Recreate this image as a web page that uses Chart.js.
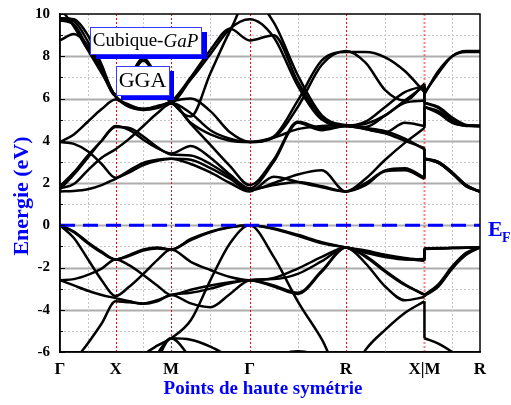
<!DOCTYPE html>
<html lang="fr">
<head>
<meta charset="UTF-8">
<title>Structure de bandes - GaP cubique</title>
<style>
  html, body { margin: 0; padding: 0; background: #fff; }
</style>
</head>
<body>
<canvas id="bands" width="511" height="405"></canvas>

<script src="https://cdn.jsdelivr.net/npm/chart.js"></script>
<script>
// chemin k : Γ - X - M - Γ - R - X|M - R (unités 2π/a)
const kNodes = [0, 0.5, 1.0, 1.7071, 2.5731, 3.2802, 3.7802];
const nodeLabels = ['Γ', 'X', 'M', 'Γ', 'R', 'X|M', 'R'];
// points d'échantillonnage le long du chemin (X et M partagent la même abscisse)
const kGrid = [0, 0.125, 0.25, 0.375, 0.5,
               0.625, 0.75, 0.875, 1.0,
               1.1768, 1.3536, 1.5303, 1.7071,
               1.9236, 2.1401, 2.3566, 2.5731,
               2.7499, 2.9266, 3.1034, 3.2802,
               3.2802, 3.4052, 3.5302, 3.6552, 3.7802];
const yTicks = [-6, -4, -2, 0, 2, 4, 6, 8, 10];
const fermiLevel = 0;

// bandes de conduction (eV)
const cb1  = [1.6,1.62,1.7,1.9,2.2, 2.5,2.85,3.05,3.15, 3.1,2.7,2.2,1.65, 2.0,2.4,2.6,1.6, 2.2,3.1,3.9,4.6, 5.6,5.35,4.9,4.72,4.7];
const cb2  = [1.7,2.4,3.2,4.0,4.7, 4.5,4.05,3.65,3.4, 3.75,3.2,2.4,1.75, 3.0,4.85,4.5,4.7, 4.55,4.4,4.85,4.7, 5.6,5.3,4.85,4.72,4.7];
const cb3  = [1.75,1.95,2.6,3.2,3.6, 4.1,4.7,5.3,5.75, 4.85,4.3,4.0,3.94, 4.2,5.9,7.8,8.2, 8.2,7.95,7.3,6.3, 6.2,7.3,8.0,8.2,8.2];
const cb4  = [1.85,2.5,3.3,4.0,4.65, 4.6,4.2,3.7,3.35, 3.3,2.9,2.3,1.7, 1.9,2.05,1.85,1.6, 1.9,2.55,2.6,2.2, 3.15,3.0,2.5,1.9,1.57];
const cb5  = [3.94,3.85,3.5,2.9,2.25, 2.6,2.95,3.1,3.15, 2.9,2.5,2.0,1.6, 2.3,2.05,1.8,1.6, 2.0,2.6,2.7,2.25, 3.15,2.95,2.45,1.85,1.6];
const cb6  = [3.94,4.3,4.9,5.5,5.95, 5.6,5.45,5.55,5.8, 4.8,3.8,2.8,1.9, 3.1,4.9,4.6,4.7, 4.8,5.2,5.9,6.6, 5.8,5.55,5.0,4.72,4.7];
const cb7  = [8.75,9.05,8.5,7.3,6.15, 7.0,7.9,7.0,5.9, 5.15,7.2,9.2,10.8, 9.6,7.1,5.2,4.72, 4.6,4.45,4.1,3.6, 3.15,3.0,2.5,1.9,1.6];
const cb8  = [9.75,9.65,8.7,7.4,6.1, 5.7,5.5,5.6,5.85, 6.0,5.4,4.4,3.94, 4.15,5.6,7.6,8.25, 7.7,6.4,5.9,6.7, 6.25,7.2,8.0,8.25,8.25];
const cb9  = [9.8,9.75,9.0,7.6,6.2, 6.9,7.8,6.9,5.85, 6.9,8.1,9.3,9.75, 8.9,6.6,5.0,4.7, 4.9,5.6,6.3,6.6, 5.8,5.6,5.1,4.75,4.7];
const cb10 = [10.3,9.4,8.3,7.2,6.1, 5.6,5.5,5.65,5.85, 7.0,8.3,9.3,8.75, 9.0,6.8,5.1,4.7, 4.65,5.2,5.8,5.9, 5.6,5.4,4.9,4.7,4.7];
const cb11 = [9.7,9.5,8.4,7.3,6.1, 5.65,5.5,5.6,5.8, 5.3,4.5,4.1,3.94, 4.15,4.55,4.7,4.75, 4.55,4.35,4.0,3.65, 3.15,2.95,2.45,1.85,1.6];

// bandes de valence (eV)
const vb1 = [0,-0.3,-0.8,-1.25,-1.62, -1.4,-1.15,-1.05,-1.15, -0.65,-0.3,-0.08,0, -0.15,-0.45,-0.8,-1.05, -1.2,-1.4,-1.55,-1.65, -1.1,-1.08,-1.07,-1.06,-1.05];
const vb2 = [0,-0.6,-1.6,-2.6,-3.35, -2.9,-2.3,-1.65,-1.15, -1.73,-2.12,-2.45,-2.6, -2.5,-2.05,-1.5,-1.05, -1.3,-1.5,-1.62,-1.6, -1.1,-1.1,-1.08,-1.06,-1.05];
const vb3 = [-2.6,-2.55,-2.35,-2.05,-1.62, -1.9,-2.35,-2.85,-3.3, -3.05,-2.85,-2.7,-2.6, -2.85,-3.2,-2.15,-1.05, -1.5,-2.2,-2.83,-3.27, -3.3,-2.85,-2.0,-1.35,-1.05];
const vb4 = [-2.6,-2.85,-3.1,-3.3,-3.45, -3.6,-3.72,-3.6,-3.3, -3.7,-3.88,-3.25,-2.6, -2.55,-2.3,-1.7,-1.05, -1.8,-2.9,-3.55,-3.4, -3.35,-2.9,-2.05,-1.4,-1.05];
const vb5 = [0,-0.33,-0.85,-1.3,-1.62, -1.45,-1.2,-1.1,-1.15, -0.7,-0.33,-0.1,0, -0.18,-0.5,-0.85,-1.05, -1.25,-1.45,-1.6,-1.68, -1.12,-1.1,-1.08,-1.06,-1.05];
const vb6 = [-8,-6.5,-5.6,-4.65,-3.6, -3.65,-3.7,-3.55,-3.3, -3.2,-3.0,-2.75,-2.6, -2.9,-3.25,-2.2,-1.05, -1.45,-2.15,-2.8,-3.3, -3.3,-2.8,-1.95,-1.3,-1.05];
const vb7 = [-9.5,-9.3,-8.8,-8.2,-7.6, -6.9,-6.15,-5.7,-5.35, -4.5,-2.6,-0.85,0, -1.5,-3.6,-5.4,-7.5, -5.9,-4.95,-4.15,-3.6, -5.35,-5.6,-6.0,-6.5,-7.0];
const vb8 = [-10,-10,-10,-10,-10, -8.5,-7.2,-6.1,-5.35, -5.42,-5.75,-6.25,-6.8, -6.2,-5.97,-6.2,-6.8, -7.5,-8,-8.5,-9, -9,-9,-9,-9,-9];
const vb9 = [-10,-10,-10,-10,-10, -9.5,-8,-6.4,-5.35, -6.3,-7.5,-8.5,-9, -9,-9,-9,-9, -9,-9,-9,-9, -9,-9,-9,-9,-9];

const bands = [cb1, cb2, cb3, cb4, cb5, cb6, cb7, cb8, cb9, cb10, cb11,
               vb1, vb2, vb3, vb4, vb5, vb6, vb7, vb8, vb9];

const serif = "'Liberation Serif', 'Times New Roman', serif";
const blue = '#0000ff';

function bandDatasets(band) {
    const pts = band.map((e, i) => ({ x: kGrid[i], y: e }));
    const style = { borderColor: '#000', borderWidth: 2.5, pointRadius: 0, fill: false,
                    cubicInterpolationMode: 'monotone', clip: 0 };
    return [
        { ...style, data: pts.slice(0, 21) },
        { ...style, data: pts.slice(20, 22), cubicInterpolationMode: 'default', tension: 0 }, // saut X|M
        { ...style, data: pts.slice(21) }
    ];
}

const fermiSet = {
    data: [{ x: kNodes[0], y: fermiLevel }, { x: kNodes[kNodes.length - 1], y: fermiLevel }],
    borderColor: blue, borderWidth: 3, borderDash: [15, 8], pointRadius: 0, tension: 0, clip: 0
};

// grille : lignes grises, pointillés rouges aux points de haute symétrie
const gridPlugin = {
    id: 'bandGrid',
    beforeDatasetsDraw(chart) {
        const { ctx, chartArea: a, scales: { x, y } } = chart;
        ctx.save();
        for (let v = yTicks[0] + 1; v < yTicks[yTicks.length - 1]; v++) {
            const py = Math.round(y.getPixelForValue(v)) + 0.5;
            ctx.beginPath();
            if (v % 2 === 0) { ctx.setLineDash([]); ctx.strokeStyle = '#adadad'; ctx.lineWidth = 2; }
            else { ctx.setLineDash([2, 2]); ctx.strokeStyle = '#c6c6c6'; ctx.lineWidth = 1; }
            ctx.moveTo(a.left, py); ctx.lineTo(a.right, py); ctx.stroke();
        }
        ctx.setLineDash([2, 2]);
        ctx.strokeStyle = '#c6c6c6'; ctx.lineWidth = 1;
        for (let i = 0; i < kNodes.length - 1; i++) {
            const px = Math.round(x.getPixelForValue((kNodes[i] + kNodes[i + 1]) / 2)) + 0.5;
            ctx.beginPath(); ctx.moveTo(px, a.top); ctx.lineTo(px, a.bottom); ctx.stroke();
        }
        for (let i = 1; i < kNodes.length - 1; i++) {
            const px = Math.round(x.getPixelForValue(kNodes[i])) + 0.5;
            const joint = nodeLabels[i].includes('|');
            ctx.strokeStyle = joint ? 'rgba(255,0,0,0.5)' : '#ff0000';
            ctx.lineWidth = joint ? 2 : 1;
            ctx.beginPath(); ctx.moveTo(px, a.top); ctx.lineTo(px, a.bottom); ctx.stroke();
        }
        ctx.restore();
    }
};

function labelBox(ctx, x, y, w, h, dx, dy, parts, size) {
    ctx.fillStyle = blue;
    ctx.fillRect(x + dx, y + dy, w, h);
    ctx.fillStyle = '#fff';
    ctx.fillRect(x, y, w, h);
    ctx.strokeStyle = '#3a3aff'; ctx.lineWidth = 1;
    ctx.strokeRect(x + 0.5, y + 0.5, w, h);
    let total = 0;
    parts.forEach(p => { ctx.font = `${p.italic ? 'italic ' : ''}${size}px ${serif}`; total += ctx.measureText(p.text).width; });
    let cx = x + (w - total) / 2;
    ctx.fillStyle = '#000'; ctx.textBaseline = 'middle'; ctx.textAlign = 'left';
    parts.forEach(p => {
        ctx.font = `${p.italic ? 'italic ' : ''}${size}px ${serif}`;
        ctx.fillText(p.text, cx, y + h / 2 + 1);
        cx += ctx.measureText(p.text).width;
    });
}

const decorPlugin = {
    id: 'decor',
    afterDraw(chart) {
        const { ctx, chartArea: a, scales: { y } } = chart;
        ctx.save();
        // petites graduations du côté gauche
        ctx.strokeStyle = '#000'; ctx.lineWidth = 1;
        for (let v = yTicks[0]; v <= yTicks[yTicks.length - 1]; v++) {
            const py = Math.round(y.getPixelForValue(v)) + 0.5;
            ctx.beginPath(); ctx.moveTo(a.left, py); ctx.lineTo(a.left + (v % 2 === 0 ? 5 : 3), py); ctx.stroke();
        }
        // cadre
        ctx.lineWidth = 1.5;
        ctx.strokeRect(a.left, a.top, a.right - a.left, a.bottom - a.top);

        // E_F
        const py0 = y.getPixelForValue(fermiLevel);
        ctx.fillStyle = blue; ctx.textAlign = 'left'; ctx.textBaseline = 'alphabetic';
        ctx.font = `bold 22px ${serif}`;
        ctx.fillText('E', a.right + 8, py0 + 11);
        ctx.font = `bold 14px ${serif}`;
        ctx.fillText('F', a.right + 22, py0 + 17);

        // titres des axes
        ctx.textAlign = 'center'; ctx.textBaseline = 'middle';
        ctx.font = `bold 19px ${serif}`;
        ctx.fillText('Points de haute symétrie', 263, 389);
        ctx.save();
        ctx.translate(22, 196);
        ctx.rotate(-Math.PI / 2);
        ctx.font = `bold 22px ${serif}`;
        ctx.fillText('Energie (eV)', 0, 0);
        ctx.restore();

        // étiquettes
        labelBox(ctx, 90, 27, 111, 27, 6, 5, [{ text: 'Cubique-' }, { text: 'GaP', italic: true }], 19);
        labelBox(ctx, 116, 66, 53, 29, 5, 5, [{ text: 'GGA' }], 22);
        ctx.restore();
    }
};

const datasets = [fermiSet];
bands.forEach(b => datasets.push(...bandDatasets(b)));

new Chart(document.getElementById('bands'), {
    type: 'line',
    data: { datasets },
    options: {
        responsive: false,
        animation: false,
        devicePixelRatio: 1,
        layout: { padding: { top: 14, right: 31, left: 0, bottom: 0 } },
        plugins: { legend: { display: false }, tooltip: { enabled: false } },
        scales: {
            x: {
                type: 'linear',
                min: kNodes[0],
                max: kNodes[kNodes.length - 1],
                afterBuildTicks: s => { s.ticks = kNodes.map(v => ({ value: v })); },
                afterFit: s => { s.height = 53; s.paddingLeft = 0; s.paddingRight = 0; },
                ticks: {
                    callback: (v, i) => nodeLabels[i],
                    font: { family: serif, size: 17, weight: 'bold' },
                    color: '#000', padding: 7, autoSkip: false, maxRotation: 0
                },
                grid: { display: false, drawTicks: false },
                border: { display: true, color: '#000', width: 1.5 }
            },
            y: {
                min: yTicks[0],
                max: yTicks[yTicks.length - 1],
                afterBuildTicks: s => { s.ticks = yTicks.map(v => ({ value: v })); },
                afterFit: s => { s.width = 60; s.paddingTop = 0; s.paddingBottom = 0; },
                ticks: {
                    font: { family: serif, size: 15, weight: 'bold' },
                    color: '#000', padding: 10
                },
                grid: { display: false, drawTicks: false },
                border: { display: true, color: '#000', width: 1.5 }
            }
        }
    },
    plugins: [gridPlugin, decorPlugin]
});
</script>
</body>
</html>
